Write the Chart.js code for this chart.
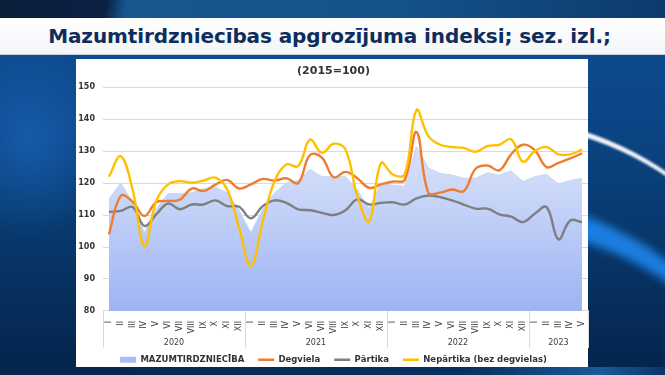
<!DOCTYPE html>
<html>
<head>
<meta charset="utf-8">
<script src="https://cdn.jsdelivr.net/npm/chart.js@4.4.1/dist/chart.umd.min.js"></script>
<style>
html,body{margin:0;padding:0;}
body{width:665px;height:375px;overflow:hidden;position:relative;
 background:linear-gradient(180deg,#0e4f93 0%,#0b4484 35%,#073465 70%,#04244a 100%);}
.deco{position:absolute;pointer-events:none;}
#topband{left:0;top:0;width:665px;height:18px;background:linear-gradient(100deg,#0a1d3a 0,#0b2144 16%,#17568f 19%,#14528c 60%,#0d3a6c 100%);}
#leftglow{left:-60px;top:40px;width:180px;height:200px;border-radius:50%;background:radial-gradient(ellipse at center,rgba(30,110,200,.55),rgba(30,110,200,0) 70%);}
#arcW{left:180px;top:115px;width:600px;height:518px;border-radius:50%;border-top:6px solid rgba(255,255,255,.95);filter:blur(1.2px);}
#arcB{left:170px;top:196px;width:600px;height:500px;border-radius:50%;border-top:28px solid rgba(30,130,230,.95);filter:blur(4px);}
#botband{left:0;top:367px;width:665px;height:8px;background:linear-gradient(100deg,#06264c 0,#08305c 70%,#1b5a99 90%,#0a3566 100%);}
#title{position:absolute;left:-3px;top:18px;width:665px;height:36px;display:flex;align-items:center;justify-content:center;font:bold 20px 'DejaVu Sans',sans-serif;color:#0e2d5c;letter-spacing:-0.1px;}
#titlebg{left:0;top:18px;width:665px;height:36px;background:linear-gradient(#ffffff,#f3f5f8);border-bottom:1px solid #c4ccd8;}
#panel{position:absolute;left:76px;top:59px;width:512px;height:308px;background:#fff;}
#c{position:absolute;left:0;top:0;}
</style>
</head>
<body>
<div class="deco" id="topband"></div>
<div class="deco" id="leftglow"></div>
<div class="deco" id="arcB"></div>
<div class="deco" id="arcW"></div>
<div class="deco" id="botband"></div>
<div class="deco" id="titlebg"></div>
<div id="title">Mazumtirdzniecības apgrozījuma indeksi; sez. izl.;</div>
<div id="panel"><canvas id="c" width="514" height="315"></canvas></div>
<script>
const monthLabels = [
 'I','II','III','IV','V','VI','VII','VIII','IX','X','XI','XII',
 'I','II','III','IV','V','VI','VII','VIII','IX','X','XI','XII',
 'I','II','III','IV','V','VI','VII','VIII','IX','X','XI','XII',
 'I','II','III','IV','V'];
const years = ['2020','2021','2022','2023'];
const yearSpans = [12,12,12,5];
const yTicks = [80,90,100,110,120,130,140,150];

const mazumtirdznieciba = [115,120,114,104.5,112,116.7,116.7,117,118.3,118.7,117,111.5,
 104.5,112,117,120,120.8,124.3,122,122,122,117.8,112,120,
 119.3,119,131.4,124.7,123,122.5,121.5,121.5,123.2,122.5,123.8,120.5,
 122,122.7,119.7,120.8,121.5];
const degviela = [104,116,114.2,109.7,114,114.4,114.8,118.3,117.5,119.5,121,118.3,
 119.6,121.3,120.8,121.5,120,128.8,128,121.8,123.5,121.5,118.5,119.6,
 120.5,121,136,117,117,118,117.5,124.5,125.5,124,129,132,
 130.3,125,126.3,127.7,129.3];
const partika = [111,111.3,112.5,106.6,110.2,113.6,111.8,113.3,113.3,114.6,112.8,112.6,
 109,112.8,114.6,113.8,111.8,111.5,110.7,110,111.5,114.9,113.3,113.8,
 114,113.3,115.2,116.1,115.6,114.6,113.3,112,112,110.2,109.5,107.8,
 110.4,112.5,102.4,108.3,107.8];
const nepartika = [122,128.4,118,100.3,114.4,119.6,120.6,120.1,120.8,121.7,118,106,
 94,108,120.6,125.8,125.3,133.6,129.5,132.3,130.5,116,108,126.3,
 122.7,122.7,142.8,134.7,132,131.3,131,129.8,131.6,132,133.7,126.7,
 130,131.3,129,129,130.5];

const AREA_COLOR = '#a9bdf3';

const yearPlugin = {
  id: 'yearGroups',
  afterDraw(chart) {
    const x = chart.scales.x, ctx = chart.ctx;
    const top = x.top, lineBottom = top + 37, labelY = top + 32;
    const bounds = [0];
    let acc = 0;
    yearSpans.forEach(s => { acc += s; bounds.push(acc); });
    const n = monthLabels.length;
    const bx = b => b === 0 ? x.left : (b === n ? x.right : (x.getPixelForValue(b - 1) + x.getPixelForValue(b)) / 2);
    ctx.save();
    ctx.strokeStyle = '#d9d9d9';
    ctx.lineWidth = 1;
    bounds.forEach(b => {
      const px = Math.round(bx(b)) + 0.5;
      ctx.beginPath(); ctx.moveTo(px, top); ctx.lineTo(px, lineBottom); ctx.stroke();
    });
    ctx.fillStyle = '#404040';
    ctx.font = '8px "DejaVu Sans"';
    ctx.textAlign = 'center';
    ctx.textBaseline = 'middle';
    years.forEach((y, i) => {
      const cx = (bx(bounds[i]) + bx(bounds[i + 1])) / 2;
      ctx.fillText(y, cx, labelY);
    });
    ctx.restore();
  }
};

new Chart(document.getElementById('c'), {
  type: 'line',
  data: {
    labels: monthLabels,
    datasets: [
      { label: 'MAZUMTIRDZNIECĪBA', data: mazumtirdznieciba, fill: 'start', tension: 0,
        borderColor: '#c8d6f1', borderWidth: 1, pointRadius: 0, order: 4,
        backgroundColor(ctx) {
          const a = ctx.chart.chartArea;
          if (!a) return AREA_COLOR;
          const g = ctx.chart.ctx.createLinearGradient(0, a.top, 0, a.bottom);
          g.addColorStop(0, '#e6ecfc');
          g.addColorStop(0.45, '#cbd8f8');
          g.addColorStop(1, '#9db3f3');
          return g;
        } },
      { label: 'Degviela', data: degviela, borderColor: '#ED7D31', borderWidth: 2.4, tension: 0.4, pointRadius: 0, fill: false, order: 2 },
      { label: 'Pārtika', data: partika, borderColor: '#7F7F7F', borderWidth: 2.4, tension: 0.4, pointRadius: 0, fill: false, order: 3 },
      { label: 'Nepārtika (bez degvielas)', data: nepartika, borderColor: '#FFC000', borderWidth: 2.4, tension: 0.4, pointRadius: 0, fill: false, order: 1 }
    ]
  },
  options: {
    responsive: false,
    devicePixelRatio: 1,
    animation: false,
    layout: { padding: { left: 3, right: 2, top: 0, bottom: 0 } },
    plugins: {
      title: { display: true, text: '(2015=100)', color: '#333', font: { family: 'DejaVu Sans', size: 11, weight: 'bold' }, padding: { top: 6, bottom: 9 } },
      legend: {
        position: 'bottom',
        labels: {
          font: { family: 'DejaVu Sans', size: 8.5, weight: 'bold' },
          color: '#333',
          usePointStyle: true,
          pointStyleWidth: 16,
          boxHeight: 6,
          padding: 14,
          generateLabels(chart) {
            return chart.data.datasets.map((ds, i) => ({
              text: ds.label,
              fillStyle: i === 0 ? AREA_COLOR : ds.borderColor,
              strokeStyle: i === 0 ? AREA_COLOR : ds.borderColor,
              lineWidth: i === 0 ? 0 : 2.5,
              pointStyle: i === 0 ? 'rect' : 'line',
              fontColor: '#333',
              hidden: false,
              datasetIndex: i
            }));
          }
        }
      },
      tooltip: { enabled: false }
    },
    scales: {
      x: {
        type: 'category',
        offset: true,
        grid: { display: false },
        border: { display: true, color: '#d9d9d9' },
        ticks: { autoSkip: false, maxRotation: 90, minRotation: 90, padding: 2, color: '#404040', font: { family: 'DejaVu Sans', size: 8 } },
        afterFit(scale) { scale.paddingLeft = 0; scale.paddingRight = 0; scale.height += 6; }
      },
      y: {
        min: 80, max: 150,
        afterBuildTicks(scale) { scale.ticks = yTicks.map(v => ({ value: v })); },
        afterFit(scale) { scale.width = 24; },
        grid: { color: '#d9d9d9', drawTicks: false },
        border: { display: false },
        ticks: { padding: 8, color: '#333', font: { family: 'DejaVu Sans', size: 8, weight: 'bold' } }
      }
    }
  },
  plugins: [yearPlugin]
});
</script>
</body>
</html>
